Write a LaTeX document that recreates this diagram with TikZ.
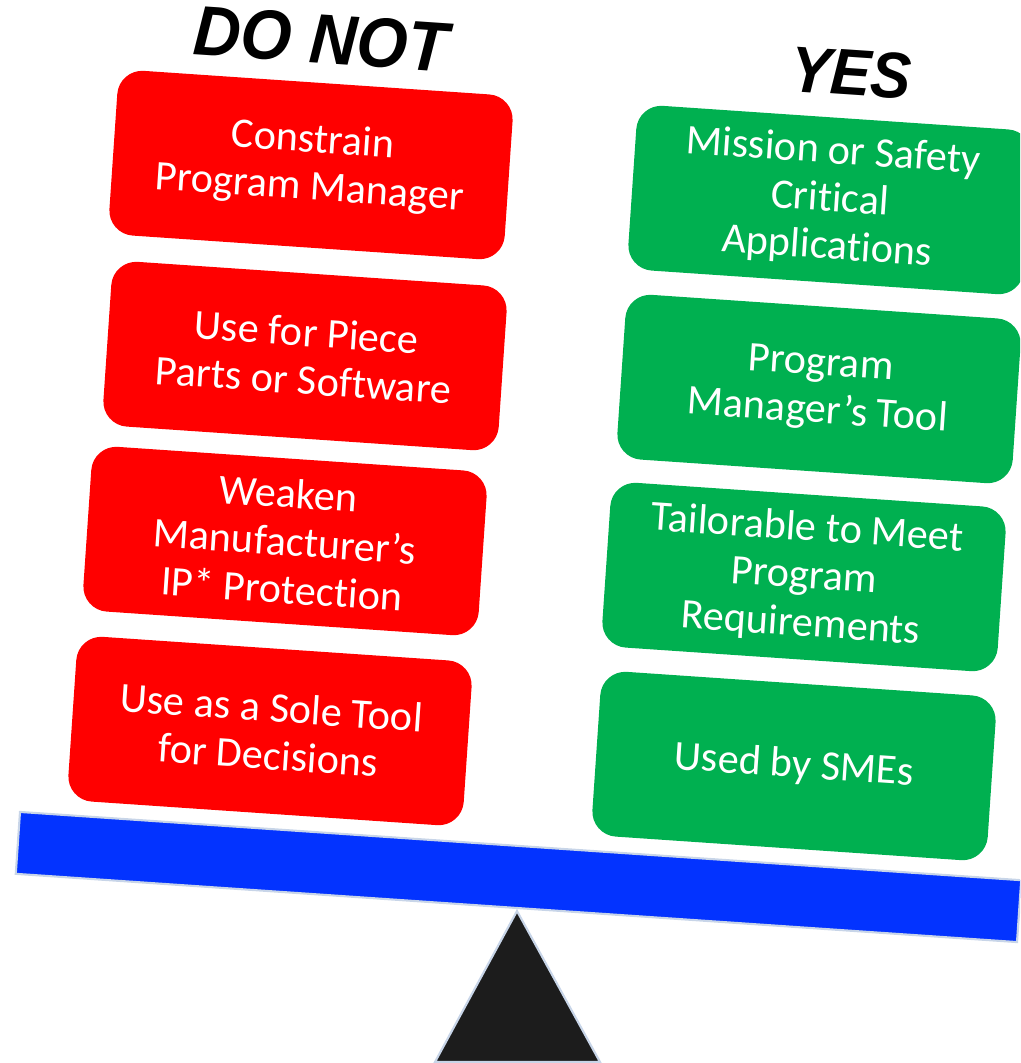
\documentclass[tikz,border=0pt]{standalone}
\usepackage{fontspec}
\setmainfont{Carlito}[Ligatures={NoCommon}]
\newfontfamily\titlefont{Liberation Sans}
\definecolor{redc}{RGB}{255,0,0}
\definecolor{greenc}{RGB}{0,176,80}
\definecolor{beamc}{RGB}{3,51,255}
\definecolor{edgec}{RGB}{200,213,232}
\definecolor{fulcc}{RGB}{28,28,28}
\begin{document}
\begin{tikzpicture}[x=0.01cm,y=-0.01cm,
  box/.style={rectangle, rounded corners=0.25cm, minimum width=3.96cm, minimum height=1.65cm,
    inner sep=0pt, align=center, text=white, font=\fontsize{12}{13.6}\selectfont, rotate=-3.9},
  nobox/.style={box, fill=redc},
  yesbox/.style={box, fill=greenc},
  titlebig/.style={font=\titlefont\bfseries\itshape\fontsize{20}{24}\selectfont, rotate=-3.9, inner sep=0pt},
  titlesmall/.style={font=\titlefont\bfseries\itshape\fontsize{18.5}{22}\selectfont, rotate=-3.9, inner sep=0pt},
  beamstyle/.style={rectangle, minimum width=10.03cm, minimum height=0.62cm, inner sep=0pt,
    fill=beamc, draw=edgec, line width=0.6pt, rotate=-3.9}]
\useasboundingbox (0,0) rectangle (1020,1063);
\begin{scope}
\clip (0,0) rectangle (1020,1063);
% titles
\node[titlebig] (tno) at (321,39) {\scalebox{0.93}[1]{DO NOT}};
\node[titlesmall] (tyes) at (851,73) {\scalebox{0.93}[1]{YES}};
% DO NOT column
\node[nobox] (n1) at (311,165) {Constrain\\Program Manager};
\node[nobox] (n2) at (305,356) {Use for Piece\\Parts or Software};
\node[nobox] (n3) at (285,541) {Weaken\\Manufacturer’s\\IP* Protection};
\node[nobox] (n4) at (270,731) {Use as a Sole Tool\\for Decisions};
% YES column
\node[yesbox] (y1) at (830,200) {Mission or Safety\\Critical\\Applications};
\node[yesbox] (y2) at (819,389) {Program\\Manager’s Tool};
\node[yesbox] (y3) at (804,577) {Tailorable to Meet\\Program\\Requirements};
\node[yesbox] (y4) at (794,766) {Used by SMEs};
% fulcrum
\draw[fill=fulcc, draw=edgec, line width=0.6pt, line join=miter] (517,911) -- (435,1062) -- (600,1062) -- cycle;
% beam
\node[beamstyle] (beam) at (518.5,877) {};
\end{scope}
\end{tikzpicture}
\end{document}
